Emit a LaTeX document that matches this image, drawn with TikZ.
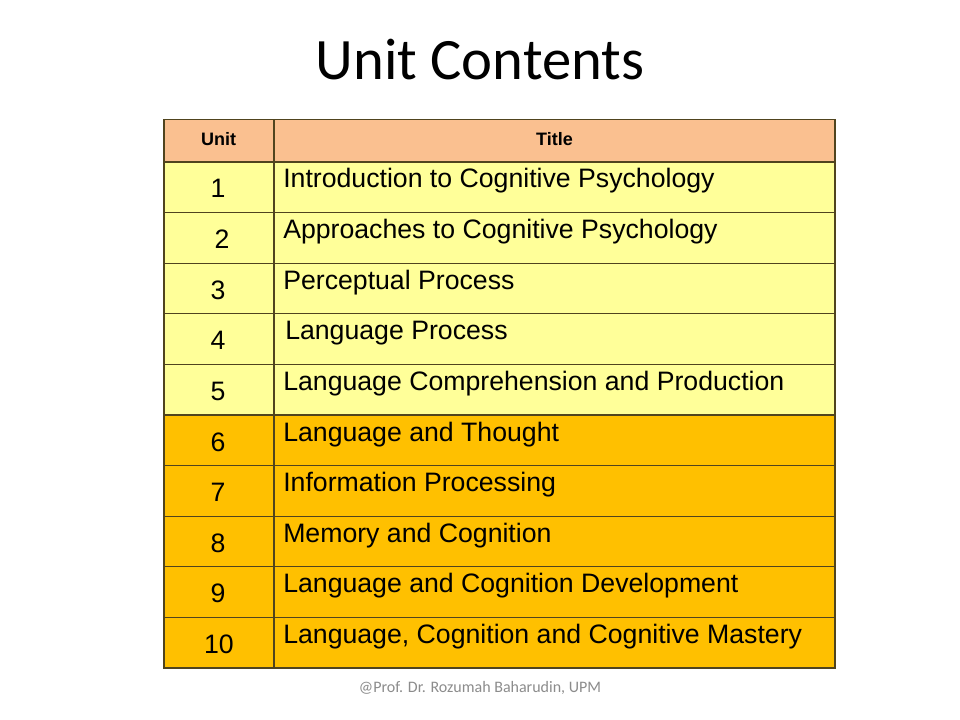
\documentclass[tikz,border=0pt]{standalone}
\usepackage{fontspec}
\setmainfont{Liberation Sans}
\newfontfamily\calibri{Carlito}
\definecolor{hdr}{RGB}{250,192,144}
\definecolor{lyel}{RGB}{255,255,153}
\definecolor{oran}{RGB}{255,192,0}
\definecolor{grid}{RGB}{80,68,30}
\definecolor{foot}{RGB}{140,140,140}
\tikzset{
  cellline/.style={draw=grid,line width=0.9pt},
  numtxt/.style={anchor=base,font=\fontsize{20}{22}\selectfont,inner sep=0pt},
  ttltxt/.style={anchor=base west,font=\fontsize{20}{22}\selectfont,inner sep=0pt},
  hdrtxt/.style={anchor=center,font=\fontsize{13.5}{15}\selectfont\bfseries,inner sep=0pt},
}
\begin{document}
\begin{tikzpicture}[x=0.75pt,y=-0.75pt]
\useasboundingbox (0,0) rectangle (960,720);
\fill[white] (0,0) rectangle (960,720);
% title
\node[font=\calibri\fontsize{44}{48}\selectfont,anchor=base,inner sep=0pt] (title) at (480,80) {Unit Contents};
% backgrounds
\fill[hdr] (164,119.5) rectangle (835,162);
\fill[lyel] (164,162) rectangle (835,415);
\fill[oran] (164,415) rectangle (835,668);
% grid
\foreach \y in {162,212.6,263.2,313.8,364.4,415,465.6,516.2,566.8,617.4}
  \draw[cellline] (164,\y) -- (835,\y);
\draw[cellline] (274,119.5) -- (274,668);
\draw[cellline] (164,119.5) rectangle (835,668);
% header
\node[hdrtxt] (hunit) at (218.5,139.5) {Unit};
\node[hdrtxt] (htitle) at (554.5,139.5) {Title};
% numbers
\node[numtxt] (n1) at (218,198) {1};
\node[numtxt] (n2) at (222,248.6) {2};
\node[numtxt] (n3) at (218,299.2) {3};
\node[numtxt] (n4) at (218,349.8) {4};
\node[numtxt] (n5) at (218,400.4) {5};
\node[numtxt] (n6) at (218,451) {6};
\node[numtxt] (n7) at (218,501.6) {7};
\node[numtxt] (n8) at (218,552.2) {8};
\node[numtxt] (n9) at (218,602.8) {9};
\node[numtxt] (n10) at (219,653.4) {10};
% titles
\node[ttltxt] (t1) at (283,188) {Introduction to Cognitive Psychology};
\node[ttltxt] (t2) at (283,238.6) {Approaches to Cognitive Psychology};
\node[ttltxt] (t3) at (283,289.2) {Perceptual Process};
\node[ttltxt] (t4) at (285,339.8) {Language Process};
\node[ttltxt] (t5) at (283,390.4) {Language Comprehension and Production};
\node[ttltxt] (t6) at (283,441) {Language and Thought};
\node[ttltxt] (t7) at (283,491.6) {Information Processing};
\node[ttltxt] (t8) at (283,542.2) {Memory and Cognition};
\node[ttltxt] (t9) at (283,592.8) {Language and Cognition Development};
\node[ttltxt] (t10) at (283,643.4) {Language, Cognition and Cognitive Mastery};
% footer
\node[font=\calibri\fontsize{12}{14}\selectfont,text=foot,anchor=base,inner sep=0pt] (footer) at (480,692) {@Prof. Dr. Rozumah Baharudin, UPM};
\end{tikzpicture}
\end{document}
